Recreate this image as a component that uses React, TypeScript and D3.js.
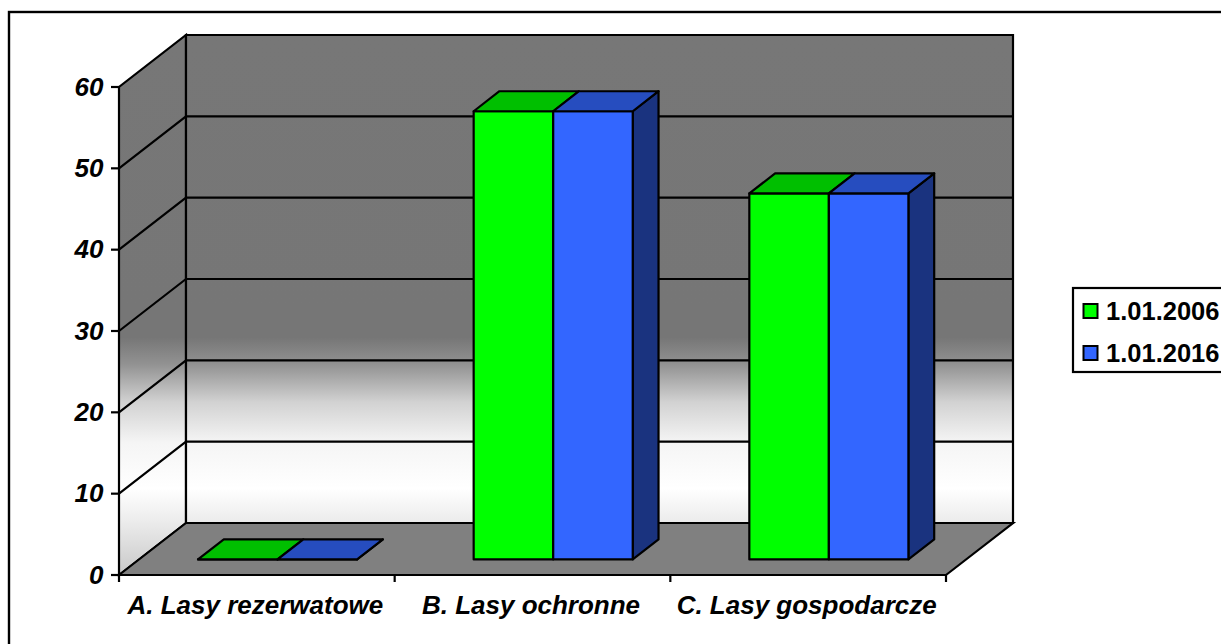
import React from "react";
import * as d3 from "d3";

const categories = ["A. Lasy rezerwatowe", "B. Lasy ochronne", "C. Lasy gospodarcze"];
const seriesNames = ["1.01.2006", "1.01.2016"];
const values2006 = [0, 55.1, 45];
const values2016 = [0, 55.1, 45];
const yTicks = [0, 10, 20, 30, 40, 50, 60];
const faceColors = ["#00ff00", "#3366ff"];
const topColors = ["#00bf00", "#264dbf"];
const sideColors = ["#00800a", "#1a337f"];
const wallStops: [number, string][] = [
  [0, "#777777"], [0.5, "#767676"], [0.56, "#767676"], [0.61, "#929292"], [0.68, "#d2d2d2"], [0.755, "#f5f5f5"],
  [0.84, "#ffffff"], [0.9, "#ececec"], [1, "#c8c8c8"],
];

const DX = 67, DY = -52;
const FONT = "'Liberation Sans', Arial, sans-serif";

const y = d3.scaleLinear().domain([0, 60]).range([575, 87]);
const x = d3.scaleBand<string>().domain(categories).range([119, 946]);
const sx = d3.scaleBand<string>().domain(seriesNames).range([0, x.bandwidth()]).paddingOuter(0.733).paddingInner(0);
const BAR_Z0 = 0.3, BAR_Z1 = 0.685;

const p = (px: number, v: number, z: number): [number, number] => [px + DX * z, y(v) + DY * z];
const poly = (pts: [number, number][]) => d3.line()(pts)! + "Z";

export default function App() {
  const left = x.range()[0], right = x.range()[1];
  const seriesValues = [values2006, values2016];
  return (
    <svg width={1221} height={644} style={{ position: "absolute", left: 0, top: 0, background: "#fff" }}>
      <defs>
        <linearGradient id="wall" gradientUnits="userSpaceOnUse" x1={0} x2={0} y1={35} y2={575}>
          {wallStops.map(([o, c]) => <stop key={o} offset={o} stopColor={c} />)}
        </linearGradient>
      </defs>
      <rect x={9} y={12} width={1300} height={700} fill="#fff" stroke="#000" strokeWidth={2.4} />
      <g stroke="#000" strokeWidth={2.2} strokeLinejoin="miter">
        <path d={poly([p(left, 0, 0), p(left, 60, 0), p(left, 60, 1), p(left, 0, 1)])} fill="url(#wall)" />
        <path d={poly([p(left, 0, 1), p(left, 60, 1), p(right, 60, 1), p(right, 0, 1)])} fill="url(#wall)" />
        <path d={poly([p(left, 0, 0), p(left, 0, 1), p(right, 0, 1), p(right, 0, 0)])} fill="#808080" />
        {yTicks.slice(1, -1).map((t) => (
          <path key={t} fill="none" d={d3.line()([p(left, t, 0), p(left, t, 1), p(right, t, 1)])!} />
        ))}
        {yTicks.map((t) => (
          <line key={t} x1={left - 8} x2={left} y1={y(t)} y2={y(t)} />
        ))}
        {[...categories.map((c) => x(c)!), right].map((tx) => (
          <line key={tx} x1={tx} x2={tx} y1={y(0)} y2={y(0) + 7} />
        ))}
      </g>
      <g stroke="#000" strokeWidth={2.2} strokeLinejoin="round" transform="translate(0.6,0)">
        {categories.map((c, i) =>
          seriesNames.map((s, j) => {
            const v = seriesValues[j][i];
            const x0 = x(c)! + sx(s)!;
            const x1 = x0 + sx.bandwidth();
            return (
              <g key={s}>
                {j === seriesNames.length - 1 && (
                  <path fill={sideColors[j]} d={poly([p(x1, 0, BAR_Z0), p(x1, v, BAR_Z0), p(x1, v, BAR_Z1), p(x1, 0, BAR_Z1)])} />
                )}
                <path fill={faceColors[j]} d={poly([p(x0, 0, BAR_Z0), p(x0, v, BAR_Z0), p(x1, v, BAR_Z0), p(x1, 0, BAR_Z0)])} />
                <path fill={topColors[j]} d={poly([p(x0, v, BAR_Z0), p(x0, v, BAR_Z1), p(x1, v, BAR_Z1), p(x1, v, BAR_Z0)])} />
              </g>
            );
          })
        )}
      </g>
      <g fontFamily={FONT} fontWeight="bold" fontStyle="italic" fontSize={26} fill="#000">
        {yTicks.map((t) => (
          <text key={t} x={103.5} y={y(t) + 8.5} textAnchor="end">{t}</text>
        ))}
        {categories.map((c) => (
          <text key={c} x={x(c)! + x.bandwidth() / 2 - 1.5} y={614} textAnchor="middle">{c}</text>
        ))}
      </g>
      <rect x={1073} y={288} width={200} height={84} fill="#fff" stroke="#000" strokeWidth={2.2} />
      {seriesNames.map((s, j) => (
        <g key={s}>
          <rect x={1083.5} y={304 + j * 42} width={14} height={14} fill={faceColors[j]} stroke="#000" strokeWidth={2} />
          <text x={1106} y={319.5 + j * 42} fontFamily={FONT} fontWeight="bold" fontSize={25.5} fill="#000">{s}</text>
        </g>
      ))}
    </svg>
  );
}
